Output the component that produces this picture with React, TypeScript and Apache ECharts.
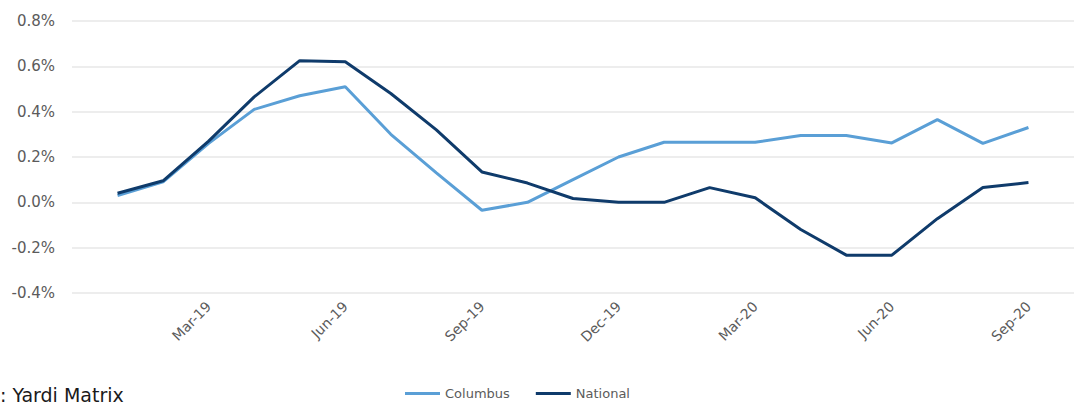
import React, { useEffect, useRef } from "react";
import * as echarts from "echarts";

// Monthly rent change, Jan-19 through Sep-20
const months = [
  "Jan-19", "Feb-19", "Mar-19", "Apr-19", "May-19", "Jun-19", "Jul-19",
  "Aug-19", "Sep-19", "Oct-19", "Nov-19", "Dec-19", "Jan-20", "Feb-20",
  "Mar-20", "Apr-20", "May-20", "Jun-20", "Jul-20", "Aug-20", "Sep-20",
];

const columbus = [
  0.03, 0.09, 0.26, 0.41, 0.47, 0.51, 0.30, 0.13, -0.035, 0.0, 0.10,
  0.20, 0.265, 0.265, 0.265, 0.295, 0.295, 0.262, 0.365, 0.26, 0.33,
];

const national = [
  0.04, 0.095, 0.27, 0.465, 0.625, 0.62, 0.48, 0.32, 0.134, 0.085, 0.017,
  0.0, 0.0, 0.065, 0.02, -0.12, -0.233, -0.233, -0.072, 0.065, 0.087,
];

const yTicks = { min: -0.4, max: 0.8, step: 0.2 };

const sourceNote = ": Yardi Matrix";

const COLUMBUS_COLOR = "#5a9fd6";
const NATIONAL_COLOR = "#0f3b6b";
const FONT = "'DejaVu Sans', Verdana, sans-serif";
const LABEL_GRAY = "#5b5b5b";

export default function App() {
  const ref = useRef<HTMLDivElement>(null);

  useEffect(() => {
    if (!ref.current) return;
    const chart = echarts.init(ref.current, undefined, { renderer: "svg" });

    // one empty slot on each side so the first and last months sit a full step in
    const axisCats = ["", ...months, ""];

    chart.setOption({
      animation: false,
      backgroundColor: "#ffffff",
      textStyle: { fontFamily: FONT },
      grid: { left: 72, right: -9, top: 21, bottom: 111, containLabel: false },
      legend: {
        left: 405,
        top: 387,
        padding: 0,
        itemWidth: 35,
        itemHeight: 3,
        itemGap: 26,
        icon: "rect",
        textStyle: { color: LABEL_GRAY, fontSize: 13, fontFamily: FONT },
        data: ["Columbus", "National"],
      },
      xAxis: {
        type: "category",
        data: axisCats,
        boundaryGap: false,
        axisLine: { show: false },
        axisTick: { show: false },
        splitLine: { show: false },
        axisLabel: {
          rotate: 45,
          margin: 11,
          color: LABEL_GRAY,
          fontSize: 14,
          fontFamily: FONT,
          interval: (idx: number, val: string) => val !== "" && idx % 3 === 0,
        },
      },
      yAxis: {
        type: "value",
        min: yTicks.min,
        max: yTicks.max,
        interval: yTicks.step,
        axisLine: { show: false },
        axisTick: { show: false },
        splitLine: { lineStyle: { color: "#e7e7e7", width: 1.5 } },
        axisLabel: {
          margin: 17,
          color: LABEL_GRAY,
          fontSize: 15,
          fontFamily: FONT,
          formatter: (v: number) => `${v.toFixed(1)}%`,
        },
      },
      series: [
        {
          name: "Columbus",
          type: "line",
          data: [null, ...columbus],
          symbol: "none",
          lineStyle: { color: COLUMBUS_COLOR, width: 3 },
          itemStyle: { color: COLUMBUS_COLOR },
        },
        {
          name: "National",
          type: "line",
          data: [null, ...national],
          symbol: "none",
          lineStyle: { color: NATIONAL_COLOR, width: 3 },
          itemStyle: { color: NATIONAL_COLOR },
        },
      ],
      graphic: [
        {
          type: "text",
          x: 0,
          y: 404,
          style: {
            text: sourceNote,
            fill: "#1a1a1a",
            font: `19px ${FONT}`,
            verticalAlign: "bottom",
          },
        },
      ],
    });

    return () => chart.dispose();
  }, []);

  return (
    <div
      ref={ref}
      style={{ position: "fixed", left: 0, top: 0, width: 1074, height: 404 }}
    />
  );
}
